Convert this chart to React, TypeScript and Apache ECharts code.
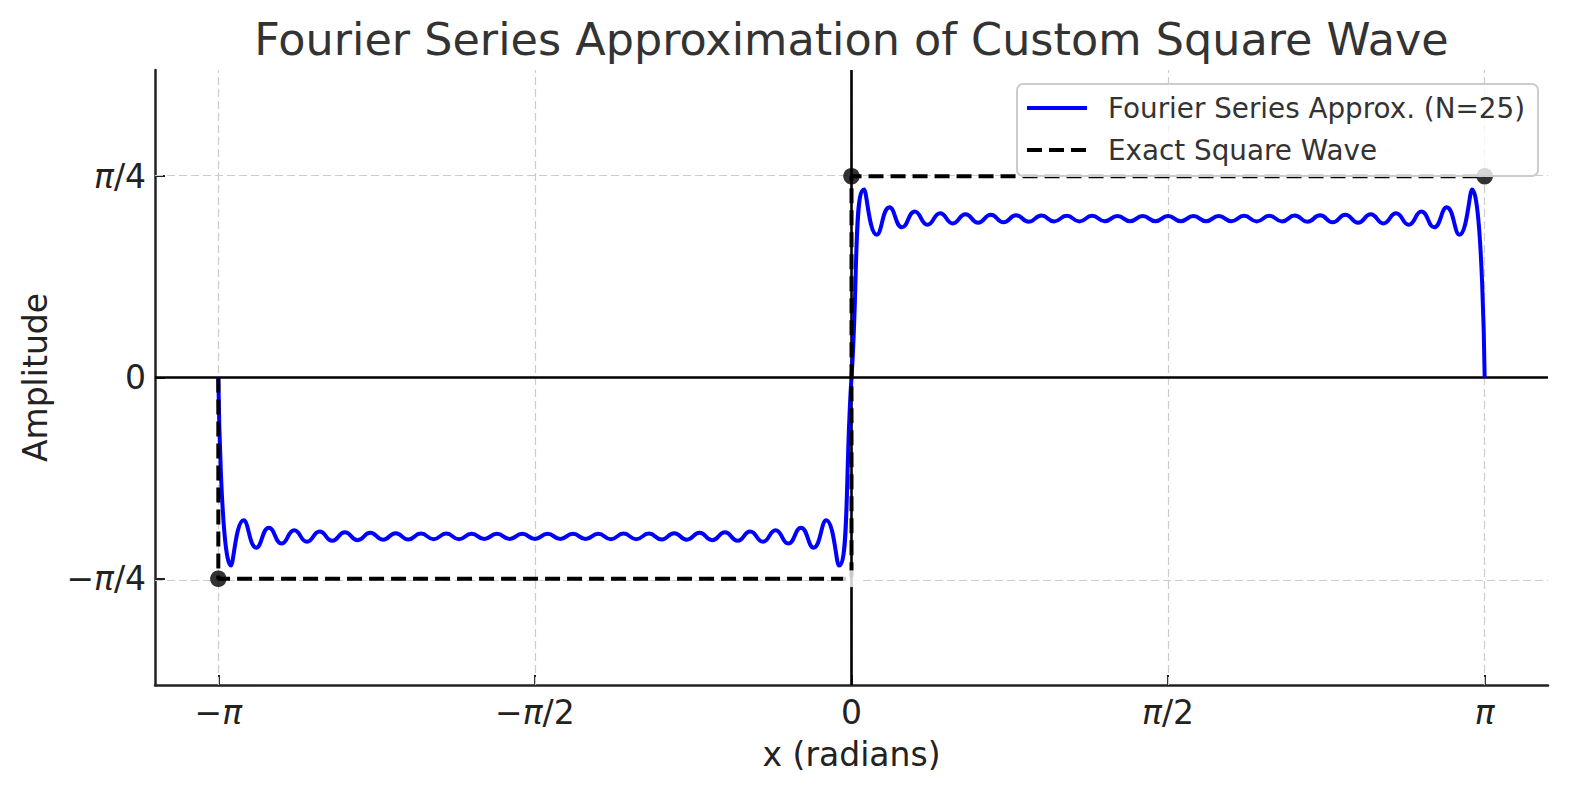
import React, { useEffect, useRef } from "react";
import * as echarts from "echarts";

// ---------------- data ----------------
const title = "Fourier Series Approximation of Custom Square Wave";
const xAxisTitle = "x (radians)";
const yAxisTitle = "Amplitude";
const approxName = "Fourier Series Approx. (N=25)";
const exactName = "Exact Square Wave";

// Fourier approximation: extrema and zero points, negative half (−π … 0)
const approxXNeg = [
  -3.1416, -3.0788, -3.0159, -2.9531, -2.8903, -2.8274, -2.7646, -2.7018, -2.6389, -2.5761,
  -2.5133, -2.4504, -2.3876, -2.3248, -2.2619, -2.1991, -2.1363, -2.0735, -2.0106, -1.9478,
  -1.885, -1.8221, -1.7593, -1.6965, -1.6336, -1.5708, -1.508, -1.4451, -1.3823, -1.3195,
  -1.2566, -1.1938, -1.131, -1.0681, -1.0053, -0.9425, -0.8796, -0.8168, -0.754, -0.6912,
  -0.6283, -0.5655, -0.5027, -0.4398, -0.377, -0.3142, -0.2513, -0.1885, -0.1257, -0.0628,
];
const approxYNeg = [
  0, -0.734, -0.557, -0.664, -0.586, -0.648, -0.596, -0.641, -0.601, -0.637,
  -0.604, -0.635, -0.606, -0.633, -0.608, -0.632, -0.609, -0.631, -0.609, -0.631,
  -0.61, -0.63, -0.61, -0.63, -0.61, -0.63, -0.61, -0.63, -0.61, -0.63,
  -0.61, -0.631, -0.609, -0.631, -0.609, -0.632, -0.608, -0.633, -0.606, -0.635,
  -0.604, -0.637, -0.601, -0.641, -0.596, -0.648, -0.586, -0.664, -0.557, -0.734,
];
// positive half (0 … π)
const approxXPos = [
  0, 0.0628, 0.1257, 0.1885, 0.2513, 0.3142, 0.377, 0.4398, 0.5027, 0.5655,
  0.6283, 0.6912, 0.754, 0.8168, 0.8796, 0.9425, 1.0053, 1.0681, 1.131, 1.1938,
  1.2566, 1.3195, 1.3823, 1.4451, 1.508, 1.5708, 1.6336, 1.6965, 1.7593, 1.8221,
  1.885, 1.9478, 2.0106, 2.0735, 2.1363, 2.1991, 2.2619, 2.3248, 2.3876, 2.4504,
  2.5133, 2.5761, 2.6389, 2.7018, 2.7646, 2.8274, 2.8903, 2.9531, 3.0159, 3.0788, 3.1416,
];
const approxYPos = [
  0, 0.734, 0.557, 0.664, 0.586, 0.648, 0.596, 0.641, 0.601, 0.637,
  0.604, 0.635, 0.606, 0.633, 0.608, 0.632, 0.609, 0.631, 0.609, 0.631,
  0.61, 0.63, 0.61, 0.63, 0.61, 0.63, 0.61, 0.63, 0.61, 0.63,
  0.61, 0.631, 0.609, 0.631, 0.609, 0.632, 0.608, 0.633, 0.606, 0.635,
  0.604, 0.637, 0.601, 0.641, 0.596, 0.648, 0.586, 0.664, 0.557, 0.734, 0,
];

// exact square wave path
const exactX = [-3.1416, -3.1416, 0, 0, 3.1416];
const exactY = [0, -0.7854, -0.7854, 0.7854, 0.7854];
// filled (black) and open (white) end-point markers
const filledDotX = [-3.1416, 0, 3.1416];
const filledDotY = [-0.7854, 0.7854, 0.7854];
const openDotX = [0];
const openDotY = [-0.7854];

// axes
const xMin = -3.4558;
const xMax = 3.4558;
const yMin = -1.2;
const yMax = 1.2;
const xTickValues = [-3.1416, -1.5708, 0, 1.5708, 3.1416];
const xTickLabels = ["−{i|π}", "−{i|π}/2", "0", "{i|π}/2", "{i|π}"];
const yTickValues = [-0.7854, 0, 0.7854];
const yTickLabels = ["−{i|π}/4", "0", "{i|π}/4"];

// ---------------- component ----------------
const FONT = "DejaVu Sans";
const TICK_COLOR = "#222222";

function labelFor(values: number[], labels: string[], v: number): string {
  let best = 0;
  for (let i = 0; i < values.length; i++) {
    if (Math.abs(values[i] - v) < Math.abs(values[best] - v)) best = i;
  }
  return labels[best];
}

export default function App() {
  const ref = useRef<HTMLDivElement>(null);

  useEffect(() => {
    if (!ref.current) return;
    const chart = echarts.init(ref.current, undefined, { renderer: "svg" });

    const zip = (xs: number[], ys: number[]) => xs.map((x, i) => [x, ys[i]]);
    const approxData = zip(approxXNeg, approxYNeg).concat(zip(approxXPos, approxYPos));

    const gridLineStyle = { color: "#cccccc", width: 1.2, type: [8, 4] as any };
    const richI = {
      i: { fontStyle: "italic", fontFamily: FONT, fontSize: 33, color: TICK_COLOR },
    };

    chart.setOption({
      animation: false,
      backgroundColor: "#ffffff",
      grid: { left: 155, right: 21, top: 70, bottom: 108, containLabel: false },
      graphic: [
        {
          type: "text",
          x: 851.5,
          y: 39,
          style: {
            text: title,
            fontFamily: FONT,
            fontSize: 44.5,
            fill: "#333333",
            align: "center",
            verticalAlign: "middle",
          },
        },
      ],
      legend: {
        orient: "vertical",
        right: 31,
        top: 84,
        z: 20,
        itemWidth: 60,
        itemHeight: 28,
        itemGap: 14,
        padding: [10, 13, 12, 8],
        backgroundColor: "rgba(255,255,255,0.8)",
        borderColor: "#cccccc",
        borderWidth: 2,
        borderRadius: 6,
        itemStyle: { opacity: 0 },
        lineStyle: { width: 4 },
        textStyle: {
          fontFamily: FONT,
          fontSize: 27.8,
          color: "#333333",
          padding: [0, 0, 0, 16],
        },
        data: [approxName, exactName],
      },
      xAxis: {
        type: "value",
        min: xMin,
        max: xMax,
        name: xAxisTitle,
        nameLocation: "middle",
        nameGap: 53,
        nameTextStyle: { fontFamily: FONT, fontSize: 33, color: TICK_COLOR },
        axisLine: { show: true, onZero: false, lineStyle: { color: "#222222", width: 2.5 } },
        axisTick: {
          show: true,
          inside: true,
          length: 10,
          customValues: xTickValues,
          lineStyle: { color: "#222222", width: 2 },
        },
        axisLabel: {
          show: true,
          customValues: xTickValues,
          margin: 11,
          fontFamily: FONT,
          fontSize: 33,
          color: TICK_COLOR,
          formatter: (v: number) => labelFor(xTickValues, xTickLabels, v),
          rich: richI,
        },
        splitLine: { show: false },
      },
      yAxis: {
        type: "value",
        min: yMin,
        max: yMax,
        name: yAxisTitle,
        nameLocation: "middle",
        nameGap: 103,
        nameRotate: 90,
        nameTextStyle: { fontFamily: FONT, fontSize: 33, color: TICK_COLOR },
        axisLine: { show: true, onZero: false, lineStyle: { color: "#222222", width: 2.5 } },
        axisTick: {
          show: true,
          inside: true,
          length: 10,
          customValues: yTickValues,
          lineStyle: { color: "#222222", width: 2 },
        },
        axisLabel: {
          show: true,
          customValues: yTickValues,
          margin: 9,
          fontFamily: FONT,
          fontSize: 33,
          color: TICK_COLOR,
          formatter: (v: number) => labelFor(yTickValues, yTickLabels, v),
          rich: richI,
        },
        splitLine: { show: false },
      },
      series: [
        {
          name: "gridlines",
          type: "line",
          data: [],
          silent: true,
          z: 1,
          markLine: {
            silent: true,
            z: 1,
            symbol: ["none", "none"],
            label: { show: false },
            lineStyle: gridLineStyle,
            emphasis: { disabled: true },
            data: [
              ...xTickValues.map((v) => ({ xAxis: v })),
              ...yTickValues.map((v) => ({ yAxis: v })),
            ],
          },
        },
        {
          name: "zerolines",
          type: "line",
          data: [],
          silent: true,
          z: 2,
          markLine: {
            silent: true,
            z: 2,
            symbol: ["none", "none"],
            label: { show: false },
            lineStyle: { color: "#000000", width: 2.6, type: "solid" },
            emphasis: { disabled: true },
            data: [{ xAxis: 0 }, { yAxis: 0 }],
          },
        },
        {
          name: approxName,
          type: "line",
          data: approxData,
          z: 3,
          symbol: "none",
          smooth: 0.5,
          lineStyle: { color: "#0000ff", width: 4 },
          itemStyle: { color: "#0000ff" },
        },
        {
          name: exactName,
          type: "line",
          data: zip(exactX, exactY),
          z: 4,
          symbol: "none",
          lineStyle: { color: "#000000", width: 4, type: [15, 7] as any },
          itemStyle: { color: "#000000" },
        },
        {
          name: "filled points",
          type: "scatter",
          data: zip(filledDotX, filledDotY),
          z: 5,
          symbol: "circle",
          symbolSize: 16.5,
          itemStyle: { color: "#000000" },
          silent: true,
        },
        {
          name: "open points",
          type: "scatter",
          data: zip(openDotX, openDotY),
          z: 6,
          symbol: "circle",
          symbolSize: 17,
          itemStyle: { color: "#ffffff" },
          silent: true,
        },
      ],
    });

    return () => chart.dispose();
  }, []);

  return (
    <div
      ref={ref}
      style={{ position: "absolute", left: 0, top: 0, width: 1569, height: 793 }}
    />
  );
}
